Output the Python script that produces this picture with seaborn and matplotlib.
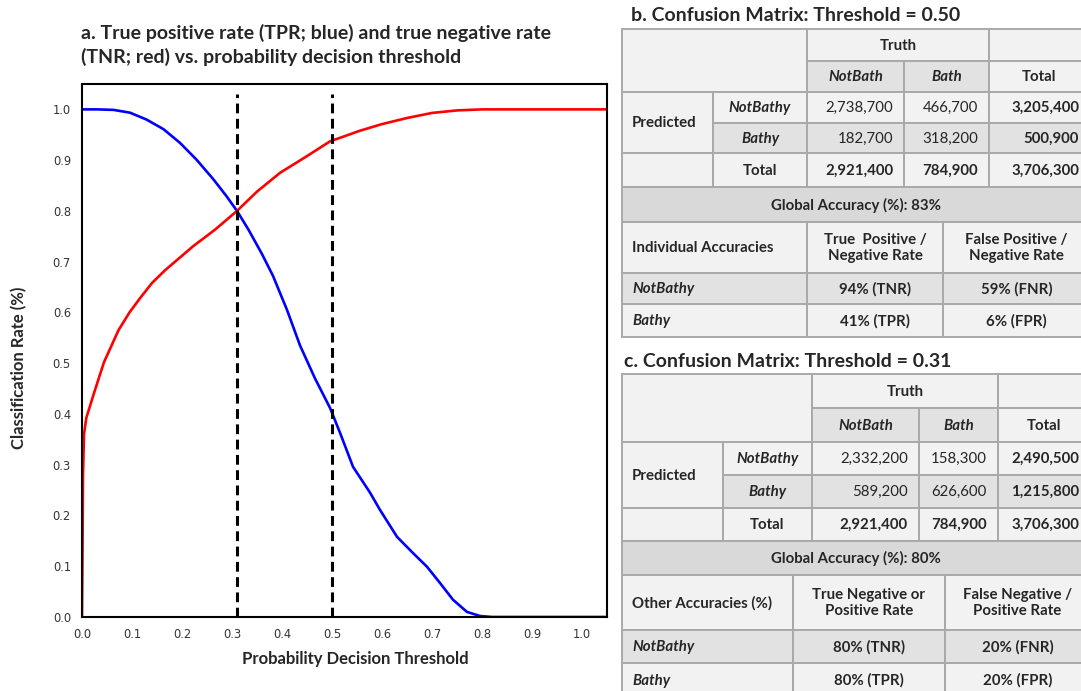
import matplotlib
matplotlib.use("Agg")
import matplotlib.pyplot as plt
from matplotlib.patches import Rectangle
import seaborn as sns

# ---------------------------------------------------------------------------
# Classification rates vs. probability decision threshold
# ---------------------------------------------------------------------------
tpr_threshold = [0.0, 0.03, 0.063, 0.096, 0.129, 0.163, 0.196, 0.229, 0.263,
                 0.289, 0.31, 0.333, 0.36, 0.382, 0.41, 0.436, 0.466, 0.496,
                 0.516, 0.542, 0.576, 0.596, 0.63, 0.662, 0.69, 0.716, 0.742,
                 0.77, 0.796, 0.82, 0.9, 1.0, 1.05]
tpr = [1.0, 1.0, 0.999, 0.9935, 0.98, 0.961, 0.934, 0.901, 0.862,
       0.829, 0.80, 0.763, 0.715, 0.672, 0.605, 0.535, 0.47, 0.412,
       0.363, 0.296, 0.245, 0.211, 0.158, 0.126, 0.099, 0.067, 0.034,
       0.01, 0.002, 0.0, 0.0, 0.0, 0.0]

tnr_threshold = [0.0, 0.001, 0.002, 0.004, 0.0086, 0.023, 0.044, 0.073, 0.095,
                 0.116, 0.14, 0.166, 0.223, 0.266, 0.31, 0.35, 0.396, 0.45,
                 0.496, 0.556, 0.6, 0.65, 0.7, 0.75, 0.8, 0.9, 1.0, 1.05]
tnr = [0.0, 0.12, 0.28, 0.36, 0.392, 0.438, 0.502, 0.565, 0.60,
       0.628, 0.658, 0.683, 0.731, 0.763, 0.80, 0.838, 0.875, 0.908,
       0.937, 0.958, 0.971, 0.983, 0.993, 0.998, 1.0, 1.0, 1.0, 1.0]

marked_thresholds = [0.31, 0.50]
x_ticks = [0.0, 0.1, 0.2, 0.3, 0.4, 0.5, 0.6, 0.7, 0.8, 0.9, 1.0]
y_ticks = [0.0, 0.1, 0.2, 0.3, 0.4, 0.5, 0.6, 0.7, 0.8, 0.9, 1.0]

chart_title = ["a. True positive rate (TPR; blue) and true negative rate",
               "(TNR; red) vs. probability decision threshold"]
x_label = "Probability Decision Threshold"
y_label = "Classification Rate (%)"

# ---------------------------------------------------------------------------
# Confusion matrices
# ---------------------------------------------------------------------------
truth_classes = ["NotBath", "Bath"]
pred_classes = ["NotBathy", "Bathy"]

title_b = "b. Confusion Matrix: Threshold = 0.50"
counts_b = [["2,738,700", "466,700", "3,205,400"],
            ["182,700", "318,200", "500,900"]]
totals_b = ["2,921,400", "784,900", "3,706,300"]
global_b = "Global Accuracy (%): 83%"
acc_head_b = ["Individual Accuracies", "True  Positive /\nNegative Rate",
              "False Positive /\nNegative Rate"]
acc_b = [["94% (TNR)", "59% (FNR)"], ["41% (TPR)", "6% (FPR)"]]

title_c = "c. Confusion Matrix: Threshold = 0.31"
counts_c = [["2,332,200", "158,300", "2,490,500"],
            ["589,200", "626,600", "1,215,800"]]
totals_c = ["2,921,400", "784,900", "3,706,300"]
global_c = "Global Accuracy (%): 80%"
acc_head_c = ["Other Accuracies (%)", "True Negative or\nPositive Rate",
              "False Negative /\nPositive Rate"]
acc_c = [["80% (TNR)", "20% (FNR)"], ["80% (TPR)", "20% (FPR)"]]

W, H = 1081, 691
sns.set_style("white")
plt.rcParams["font.family"] = ["DejaVu Sans"]
TXT = "Lato"

fig = plt.figure(figsize=(W / 100, H / 100), dpi=100)

# ---------------- line chart ----------------
ax = fig.add_axes([82 / W, 1 - 617 / H, (607 - 82) / W, (617 - 84) / H])
sns.lineplot(x=tpr_threshold, y=tpr, ax=ax, color="#0000ff", lw=1.9,
             estimator=None, sort=False)
sns.lineplot(x=tnr_threshold, y=tnr, ax=ax, color="#ff0000", lw=1.9,
             estimator=None, sort=False)
ax.vlines(marked_thresholds, 0, 1.03, colors="black", lw=2.2,
          linestyles=(0, (3.2, 1.8)), zorder=3)
ax.set_xlim(0, 1.05)
ax.set_ylim(0, 1.05)
ax.set_xticks(x_ticks)
ax.set_yticks(y_ticks)
ax.set_xticklabels([f"{v:.1f}" for v in x_ticks])
ax.set_yticklabels([f"{v:.1f}" for v in y_ticks])
ax.tick_params(axis="both", direction="out", length=5, width=1.5,
               labelsize=8.3, labelcolor="#333333", color="black", pad=3)
for sp in ax.spines.values():
    sp.set_color("black")
    sp.set_linewidth(1.5)
ax.set_xlabel(x_label, fontfamily=TXT, fontweight="bold", fontsize=12)
ax.set_ylabel(y_label, fontfamily=TXT, fontweight="bold", fontsize=12)
ax.xaxis.set_label_coords(0.52, -0.063)
ax.yaxis.set_label_coords(-0.105, 0.467)

# ---------------- overlay in pixel units for titles and tables ----------------
ov = fig.add_axes([0, 0, 1, 1], zorder=5)
ov.set_xlim(0, W)
ov.set_ylim(H, 0)
ov.axis("off")
ov.patch.set_alpha(0)

for line, ty in zip(chart_title, [33, 57]):
    ov.text(81, ty, line, fontfamily=TXT, fontweight="bold", fontsize=14,
            ha="left", va="center")

LIGHT = "#f2f2f2"
MID = "#e2e2e2"
DARK = "#d9d9d9"
EDGE = "#a9a9a9"
FS = 10.8


def cell(x0, y0, x1, y1, fill, text="", weight="normal", style="normal",
         ha="center", pad=10):
    ov.add_patch(Rectangle((x0, y0), x1 - x0, y1 - y0, facecolor=fill,
                           edgecolor=EDGE, lw=1.4))
    if text:
        if ha == "center":
            tx = (x0 + x1) / 2
        elif ha == "left":
            tx = x0 + pad
        else:
            tx = x1 - pad
        ov.text(tx, (y0 + y1) / 2 + 0.5, text, fontfamily=TXT, fontsize=FS,
                fontweight=weight, fontstyle=style, ha=ha, va="center",
                linespacing=1.2)


def confusion_table(title, title_x, title_y, cols, rows, lower_cols, counts,
                    totals, global_text, acc_head, acc):
    c0, c1, c2, c3, c4, c5 = cols
    r0, r1, r2, r3, r4, r5, r6, r7, r8, r9 = rows
    l0, l1, l2, l3 = lower_cols
    ov.text(title_x, title_y, title, fontfamily=TXT, fontweight="bold",
            fontsize=14, ha="left", va="center")
    # header
    cell(c0, r0, c2, r2, LIGHT)
    cell(c2, r0, c4, r1, LIGHT, "Truth", "bold")
    cell(c4, r0, c5, r1, LIGHT)
    cell(c2, r1, c3, r2, MID, truth_classes[0], "bold", "italic")
    cell(c3, r1, c4, r2, MID, truth_classes[1], "bold", "italic")
    cell(c4, r1, c5, r2, LIGHT, "Total", "bold")
    # predicted rows
    cell(c0, r2, c1, r4, LIGHT, "Predicted", "bold", ha="left")
    for i, (ya, yb) in enumerate([(r2, r3), (r3, r4)]):
        fill = LIGHT if i == 0 else MID
        cell(c1, ya, c2, yb, fill, pred_classes[i], "bold", "italic")
        cell(c2, ya, c3, yb, fill, counts[i][0], ha="right", pad=11)
        cell(c3, ya, c4, yb, fill, counts[i][1], ha="right", pad=11)
        cell(c4, ya, c5, yb, fill, counts[i][2], "bold", ha="right", pad=11)
    # totals row
    cell(c0, r4, c1, r5, LIGHT)
    cell(c1, r4, c2, r5, LIGHT, "Total", "bold")
    cell(c2, r4, c3, r5, LIGHT, totals[0], "bold", ha="right", pad=11)
    cell(c3, r4, c4, r5, LIGHT, totals[1], "bold", ha="right", pad=11)
    cell(c4, r4, c5, r5, LIGHT, totals[2], "bold", ha="right", pad=11)
    # global accuracy
    cell(l0, r5, l3, r6, DARK, global_text, "bold")
    # per-class accuracies
    cell(l0, r6, l1, r7, LIGHT, acc_head[0], "bold", ha="left")
    cell(l1, r6, l2, r7, LIGHT, acc_head[1], "bold")
    cell(l2, r6, l3, r7, LIGHT, acc_head[2], "bold")
    for i, (ya, yb) in enumerate([(r7, r8), (r8, r9)]):
        fill = MID if i == 0 else LIGHT
        cell(l0, ya, l1, yb, fill, pred_classes[i], "bold", "italic",
             ha="left")
        cell(l1, ya, l2, yb, fill, acc[i][0], "bold")
        cell(l2, ya, l3, yb, fill, acc[i][1], "bold")


confusion_table(title_b, 631, 15,
                [622, 713, 807, 904, 989, 1090],
                [29, 61, 92, 123, 153, 187, 222, 273, 304, 337],
                [622, 807, 943, 1090],
                counts_b, totals_b, global_b, acc_head_b, acc_b)
confusion_table(title_c, 624, 361,
                [622, 723, 812, 919, 998, 1090],
                [374, 408, 442, 475, 508, 541, 575, 630, 663, 697],
                [622, 793, 945, 1090],
                counts_c, totals_c, global_c, acc_head_c, acc_c)

fig.savefig("out.png", dpi=100)
